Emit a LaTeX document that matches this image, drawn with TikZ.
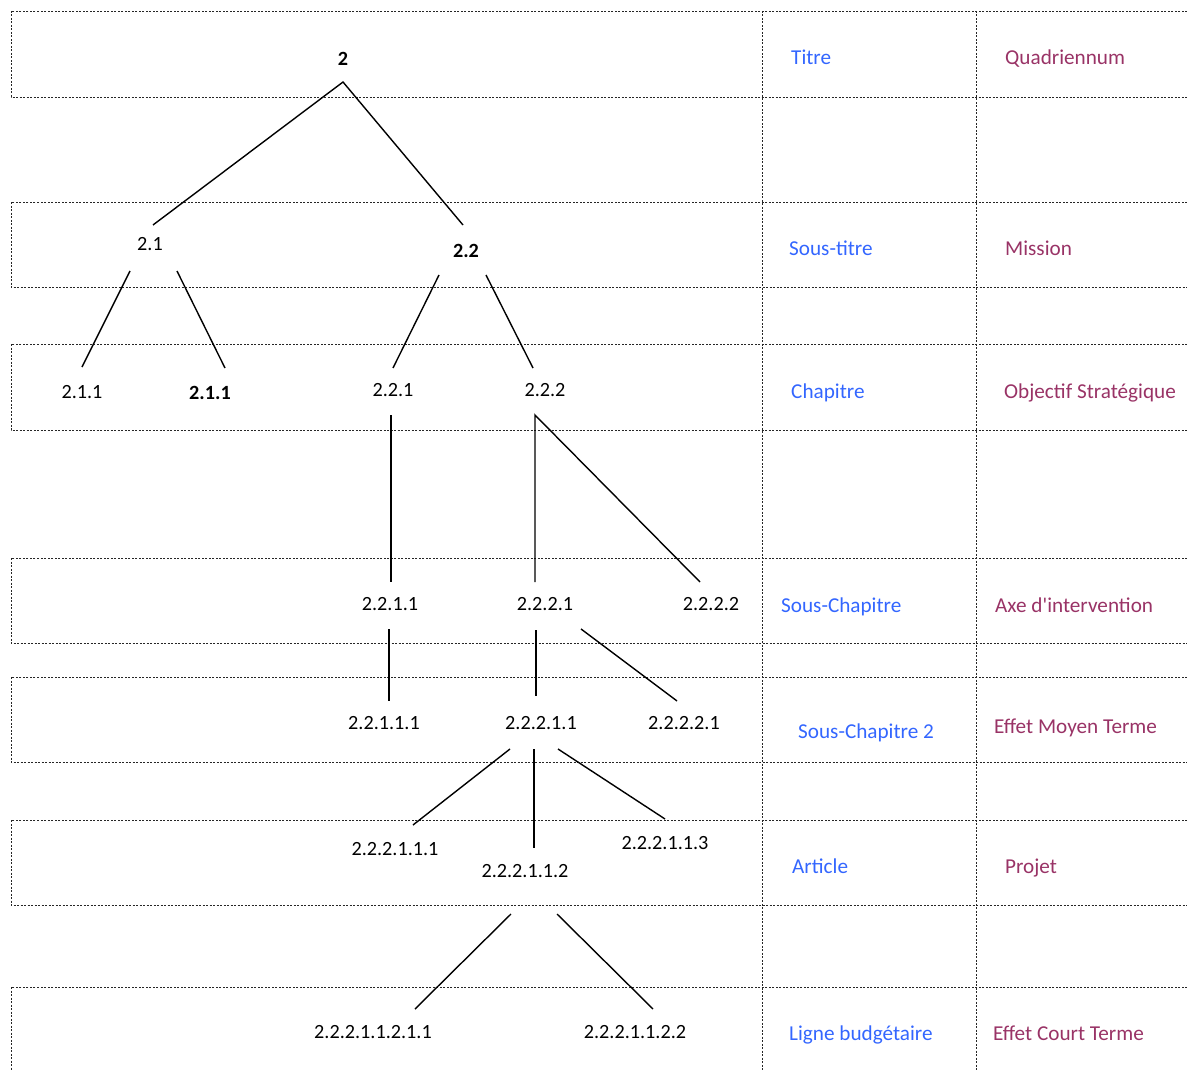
\documentclass[tikz,border=0pt]{standalone}
\usepackage{fontspec}
\setmainfont{Carlito}
\usetikzlibrary{calc}
\definecolor{lblblue}{RGB}{51,102,255}
\definecolor{lblpurple}{RGB}{153,51,102}
\tikzset{
  grid/.style={draw=black!85, line width=0.8pt, dash pattern=on 2pt off 1.5pt},
  conn/.style={draw=black, line width=1.4pt},
  num/.style={inner sep=0pt, text height=13pt, text depth=0pt, font=\fontsize{20.2}{24}\selectfont},
  numb/.style={num, font=\fontsize{20.2}{24}\selectfont\bfseries},
  lbl/.style={anchor=west, inner sep=0pt, text height=14pt, text depth=0pt, font=\fontsize{21.2}{25}\selectfont, text=lblblue},
  lblp/.style={lbl, text=lblpurple}
}
\begin{document}
\begin{tikzpicture}[x=1pt, y=-1pt]
\useasboundingbox (0,0) rectangle (1187,1070);
% bands
\foreach \t/\b in {11/97, 202/287, 344/430, 558/643, 677/762, 820/905} {
  \draw[grid] (1187,\t) -- (11,\t) -- (11,\b) -- (1187,\b);
}
\draw[grid] (1187,987) -- (11,987) -- (11,1070);
\draw[grid] (762,11) -- (762,1070);
\draw[grid] (976,11) -- (976,1070);

% tree nodes
\node[numb] (n2) at (343,59) {2};
\node[num] (n21) at (150,244) {2.1};
\node[numb] (n22) at (466,251) {2.2};
\node[num] (n211a) at (82,392) {2.1.1};
\node[numb] (n211b) at (210,393) {2.1.1};
\node[num] (n221) at (393,390) {2.2.1};
\node[num] (n222) at (545,390) {2.2.2};
\node[num] (n2211) at (390,604) {2.2.1.1};
\node[num] (n2221) at (545,604) {2.2.2.1};
\node[num] (n2222) at (711,604) {2.2.2.2};
\node[num] (n22111) at (384,723) {2.2.1.1.1};
\node[num] (n22211) at (541,723) {2.2.2.1.1};
\node[num] (n22221) at (684,723) {2.2.2.2.1};
\node[num] (n222111) at (395,849) {2.2.2.1.1.1};
\node[num] (n222112) at (525,871) {2.2.2.1.1.2};
\node[num] (n222113) at (665,843) {2.2.2.1.1.3};
\node[num] (n2221121) at (373,1032) {2.2.2.1.1.2.1.1};
\node[num] (n2221122) at (635,1032) {2.2.2.1.1.2.2};

% connectors
\draw[conn] ($(n21)+(3,-19)$) -- ($(n2)+(0,23)$) -- ($(n22)+(-3,-26)$);
\draw[conn] ($(n21)+(-20,27)$) -- ($(n211a)+(0,-25)$);
\draw[conn] ($(n21)+(27,27)$) -- ($(n211b)+(15,-25)$);
\draw[conn] ($(n22)+(-27,24)$) -- ($(n221)+(0,-22)$);
\draw[conn] ($(n22)+(20,24)$) -- ($(n222)+(-12,-22)$);
\draw[conn] ($(n221)+(-2,25)$) -- ($(n2211)+(1,-22)$);
\draw[conn] ($(n2221)+(-10,-22)$) -- ($(n222)+(-10,25)$) -- ($(n2222)+(-11,-22)$);
\draw[conn] ($(n2211)+(-1,25)$) -- ($(n22111)+(5,-22)$);
\draw[conn] ($(n2221)+(-9,26)$) -- ($(n22211)+(-5,-27)$);
\draw[conn] ($(n2221)+(36,25)$) -- ($(n22221)+(-7,-22)$);
\draw[conn] ($(n22211)+(-31,26)$) -- ($(n222111)+(18,-24)$);
\draw[conn] ($(n22211)+(-7,26)$) -- ($(n222112)+(9,-23)$);
\draw[conn] ($(n22211)+(17,26)$) -- ($(n222113)+(0,-24)$);
\draw[conn] ($(n222112)+(-14,43)$) -- ($(n2221121)+(42,-23)$);
\draw[conn] ($(n222112)+(32,43)$) -- ($(n2221122)+(18,-23)$);

% labels
\node[lbl] (l1) at (791,58) {Titre};
\node[lbl] (l2) at (789,248) {Sous-titre};
\node[lbl] (l3) at (791,391) {Chapitre};
\node[lbl] (l4) at (781,605) {Sous-Chapitre};
\node[lbl] (l5) at (798,731) {Sous-Chapitre 2};
\node[lbl] (l6) at (792,866) {Article};
\node[lbl] (l7) at (789,1033) {Ligne budgétaire};
\node[lblp] (p1) at (1005,58) {Quadriennum};
\node[lblp] (p2) at (1005,248) {Mission};
\node[lblp] (p3) at (1004,391) {Objectif Stratégique};
\node[lblp] (p4) at (995,605) {Axe d\textquotesingle intervention};
\node[lblp] (p5) at (994,726) {Effet Moyen Terme};
\node[lblp] (p6) at (1005,866) {Projet};
\node[lblp] (p7) at (993,1033) {Effet Court Terme};
\end{tikzpicture}
\end{document}
